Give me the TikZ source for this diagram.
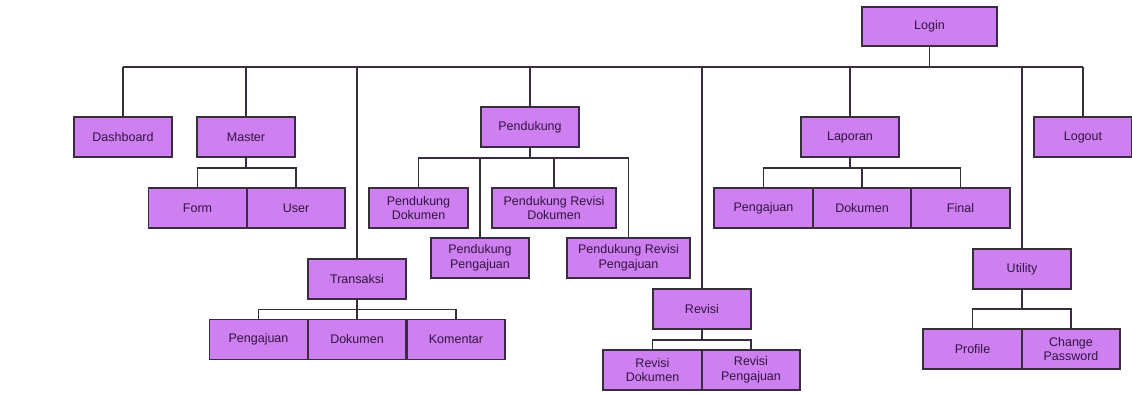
\documentclass[tikz,border=0pt]{standalone}
\usepackage{fontspec}
\setmainfont{Liberation Sans}
\definecolor{boxfill}{RGB}{206,128,240}
\definecolor{boxline}{RGB}{55,45,60}
\definecolor{boxtext}{RGB}{50,20,65}
\begin{document}
\begin{tikzpicture}[x=1pt,y=-1pt,
  mbox/.style={draw=boxline,fill=boxfill,line width=1.2pt,minimum width=98pt,minimum height=40pt,
    inner sep=0pt,align=center,text=boxtext,font=\fontsize{12.5}{14.5}\selectfont},
  wbox/.style={mbox,minimum width=123pt},
  conn/.style={draw=boxline,line width=1.2pt}]
\useasboundingbox (0,0) rectangle (1132,394);
% top level
\node[mbox,minimum width=135pt,minimum height=39pt] (login) at (929.5,26.5) {Login};
\node[mbox] (dash) at (123,137) {Dashboard};
\node[mbox] (master) at (246,137) {Master};
\node[mbox] (trans) at (357,279) {Transaksi};
\node[mbox] (pend) at (530,127) {Pendukung};
\node[mbox] (rev) at (702,309) {Revisi};
\node[mbox] (lap) at (850,137) {Laporan};
\node[mbox] (util) at (1022,269) {Utility};
\node[mbox] (logout) at (1083,137) {Logout};
% master children
\node[mbox] (form) at (197.5,208) {Form};
\node[mbox] (user) at (296,208) {User};
% transaksi children
\node[mbox] (tpeng) at (258.5,339.5) {Pengajuan};
\node[mbox] (tdok) at (357,339.5) {Dokumen};
\node[mbox] (tkom) at (456,339.5) {Komentar};
% pendukung children
\node[mbox,minimum width=99pt] (pdok) at (418.5,208) {Pendukung\\Dokumen};
\node[wbox,minimum width=124pt] (prdok) at (554,208) {Pendukung Revisi\\Dokumen};
\node[mbox] (ppeng) at (480,258) {Pendukung\\Pengajuan};
\node[wbox] (prpeng) at (628.5,258) {Pendukung Revisi\\Pengajuan};
% revisi children
\node[mbox,minimum width=99pt] (rdok) at (652.5,370) {Revisi\\Dokumen};
\node[mbox] (rpeng) at (751,370) {Revisi\\Pengajuan};
% laporan children
\node[mbox,minimum width=99pt] (lpeng) at (763.5,208) {Pengajuan};
\node[mbox] (ldok) at (862,208) {Dokumen};
\node[mbox,minimum width=99pt] (lfin) at (960.5,208) {Final};
% utility children
\node[mbox,minimum width=99pt] (uprof) at (972.5,349) {Profile};
\node[mbox] (upass) at (1071,349) {Change\\Password};
% bus levels
\coordinate (bus) at (0,67);
\coordinate (mb) at (0,168);
\coordinate (tb) at (0,309.5);
\coordinate (pb) at (0,158);
\coordinate (rb) at (0,340);
\coordinate (lb) at (0,168);
\coordinate (ub) at (0,309);
% main bus
\draw[conn] (login.south) -- (login.south |- bus);
\draw[conn] (dash.north |- bus) -- (logout.north |- bus);
\foreach \n in {dash,master,pend,lap,logout}
  \draw[conn] (\n.north) -- (\n.north |- bus);
\draw[conn] (trans.north) -- (trans.north |- bus);
\draw[conn] (rev.north) -- (rev.north |- bus);
\draw[conn] (util.north) -- (util.north |- bus);
% master
\draw[conn] (master.south) -- (master.south |- mb);
\draw[conn] (form.north) -- (form.north |- mb) -- (user.north |- mb) -- (user.north);
% transaksi
\draw[conn] (trans.south) -- (tdok.north);
\draw[conn] (tpeng.north) -- (tpeng.north |- tb) -- (tkom.north |- tb) -- (tkom.north);
% pendukung
\draw[conn] (pend.south) -- (pend.south |- pb);
\draw[conn] (pdok.north) -- (pdok.north |- pb) -- (prpeng.north |- pb) -- (prpeng.north);
\draw[conn] (ppeng.north) -- (ppeng.north |- pb);
\draw[conn] (prdok.north) -- (prdok.north |- pb);
% revisi
\draw[conn] (rev.south) -- (rev.south |- rb);
\draw[conn] (rdok.north) -- (rdok.north |- rb) -- (rpeng.north |- rb) -- (rpeng.north);
% laporan
\draw[conn] (lap.south) -- (lap.south |- lb);
\draw[conn] (lpeng.north) -- (lpeng.north |- lb) -- (lfin.north |- lb) -- (lfin.north);
\draw[conn] (ldok.north) -- (ldok.north |- lb);
% utility
\draw[conn] (util.south) -- (util.south |- ub);
\draw[conn] (uprof.north) -- (uprof.north |- ub) -- (upass.north |- ub) -- (upass.north);
\end{tikzpicture}
\end{document}
